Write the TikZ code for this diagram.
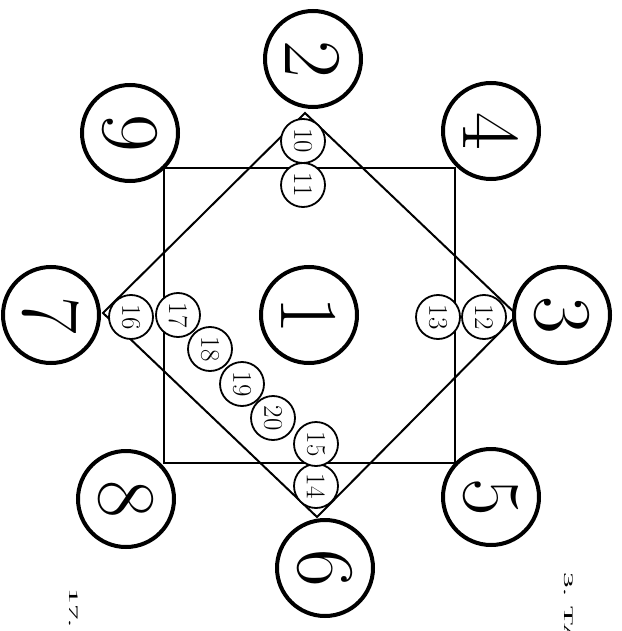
\documentclass[tikz,border=0pt]{standalone}
\usepackage{fontspec}
\newfontfamily\cyrfont{Liberation Serif}
\usetikzlibrary{positioning}
\tikzset{
  bigc/.style={circle,draw,line width=4pt,fill=white,minimum size=96pt,inner sep=0pt,rotate=-90,font=\fontsize{82}{82}\selectfont},
  smallc/.style={circle,draw,line width=1.8pt,fill=white,minimum size=44pt,inner sep=0pt,rotate=-90,font=\fontsize{27}{27}\selectfont},
  frame/.style={line width=2pt,line join=miter},
  side/.style={rotate=-90,xscale=2.4,anchor=west,inner sep=0pt,font=\cyrfont\fontsize{13}{13}\selectfont}
}
\begin{document}
\begin{tikzpicture}[x=1pt,y=-1pt]
\useasboundingbox[fill=white] (0,0) rectangle (621,631);
% square and diamond
\coordinate (sq1) at (164,168);
\coordinate (sq2) at (455,463);
\draw[frame] (sq1) rectangle (sq2);
\coordinate (dt) at (305,113);
\coordinate (dr) at (517,315);
\coordinate (db) at (317,517);
\coordinate (dl) at (103,313);
\draw[frame] (dt) -- (dr) -- (db) -- (dl) -- cycle;
% big circles
\foreach \n/\x/\y in {1/309/315,2/313/59,3/562/315,4/491/131,5/491/497,6/325/568,7/51/315,8/126/499,9/130/133}
  \node[bigc] (b\n) at (\x,\y) {\n};
% small circles
\foreach \n/\x/\y in {10/303/141,11/303/185,12/484/317,13/438/317,14/316/486,15/316/444,16/131/317,17/178/315,18/210/349,19/242/384,20/273/418}
  \node[smallc] (s\n) at (\x,\y) {\n};
% page text
\node[side] (t3) at (569,572) {3. ТА};
\node[side] (t17) at (74,588) {17. К};
\end{tikzpicture}
\end{document}
